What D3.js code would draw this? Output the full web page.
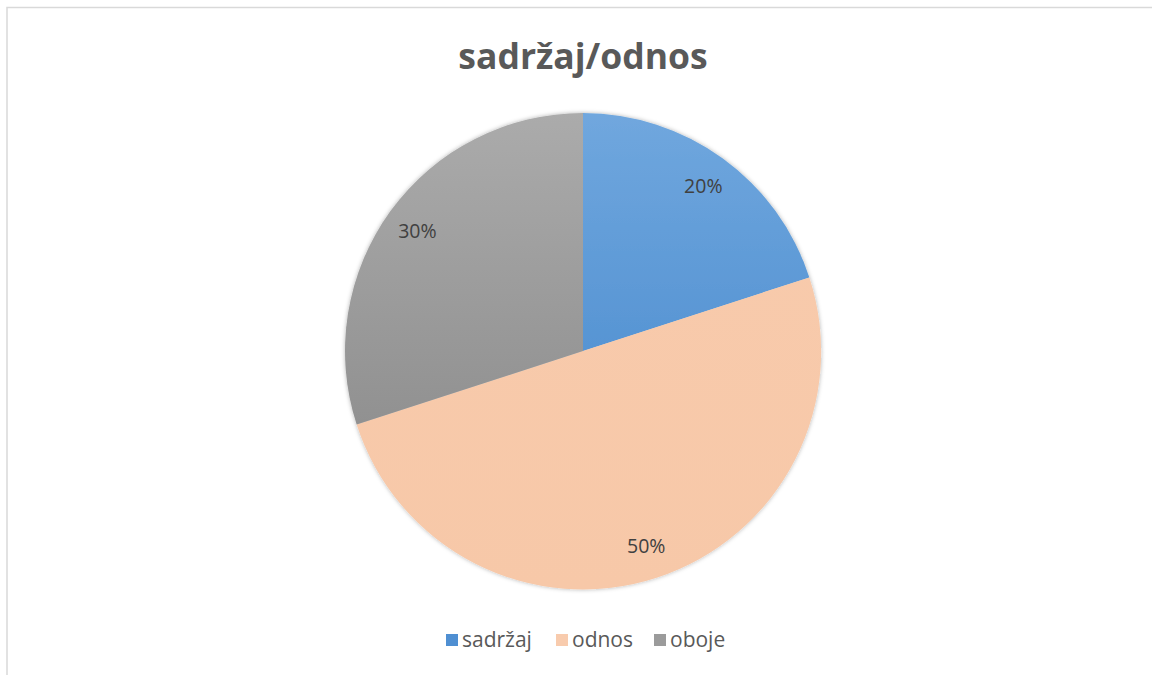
<!DOCTYPE html>
<html>
<head>
<meta charset="utf-8">
<script src="https://cdn.jsdelivr.net/npm/d3@7"></script>
<style>
  body { margin: 0; background: #fff; }
  svg { display: block; }
</style>
</head>
<body>
<svg id="svg" width="1152" height="675"></svg>
<script>
const categories = ["sadržaj", "odnos", "oboje"];
const values = [20, 50, 30];
const labels = ["20%", "50%", "30%"];
const chartTitle = "sadržaj/odnos";

const svg = d3.select("#svg");
const fontFam = "Open Sans, Liberation Sans, sans-serif";

// chart frame
svg.append("rect")
    .attr("x", 7).attr("y", 7.5)
    .attr("width", 1160).attr("height", 680)
    .attr("fill", "#fff")
    .attr("stroke", "#d9d9d9").attr("stroke-width", 1.5);

const defs = svg.append("defs");

function grad(id, top, bottom) {
    const g = defs.append("linearGradient")
        .attr("id", id)
        .attr("gradientUnits", "userSpaceOnUse")
        .attr("x1", 0).attr("y1", -238).attr("x2", 0).attr("y2", 238);
    g.append("stop").attr("offset", "0%").attr("stop-color", top);
    g.append("stop").attr("offset", "100%").attr("stop-color", bottom);
}
grad("g0", "#70a7de", "#3d82c9");
grad("g1", "#f8cbad", "#f7c8a8");
grad("g2", "#ababab", "#838383");

const f = defs.append("filter").attr("id", "sh")
    .attr("x", "-10%").attr("y", "-10%").attr("width", "120%").attr("height", "120%");
f.append("feDropShadow").attr("dx", 0).attr("dy", 0).attr("stdDeviation", 2)
    .attr("flood-color", "#000").attr("flood-opacity", 0.3);

const legendColors = ["#4f8fd2", "#f8cbad", "#9b9b9b"];

// title
svg.append("text")
    .attr("x", 583).attr("y", 69)
    .attr("text-anchor", "middle")
    .attr("font-family", fontFam)
    .attr("font-weight", "bold")
    .attr("font-size", 35.5)
    .attr("fill", "#595959")
    .text(chartTitle);

const R = 238;
const g = svg.append("g").attr("transform", "translate(583,351)");

const pie = d3.pie().sort(null).value(d => d);
const arcs = pie(values);
const arc = d3.arc().innerRadius(0).outerRadius(R);
const labelArc = d3.arc().innerRadius(R * 0.86).outerRadius(R * 0.86);

g.append("g").attr("filter", "url(#sh)")
    .selectAll("path")
    .data(arcs)
    .enter()
    .append("path")
    .attr("d", arc)
    .attr("fill", (d, i) => "url(#g" + i + ")");

g.selectAll(".lbl")
    .data(arcs)
    .enter()
    .append("text")
    .attr("class", "lbl")
    .attr("transform", d => "translate(" + labelArc.centroid(d) + ")")
    .attr("text-anchor", "middle")
    .attr("dominant-baseline", "central")
    .attr("font-family", fontFam)
    .attr("font-size", 19.5)
    .attr("fill", "#404040")
    .text((d, i) => labels[i]);

// legend
const legX = [446, 556, 654];
const leg = svg.append("g");
categories.forEach((c, i) => {
    leg.append("rect")
        .attr("x", legX[i]).attr("y", 634)
        .attr("width", 12).attr("height", 12)
        .attr("fill", legendColors[i]);
    leg.append("text")
        .attr("x", legX[i] + 16).attr("y", 647)
        .attr("font-family", fontFam)
        .attr("font-size", 21)
        .attr("fill", "#595959")
        .text(c);
});
</script>
</body>
</html>
